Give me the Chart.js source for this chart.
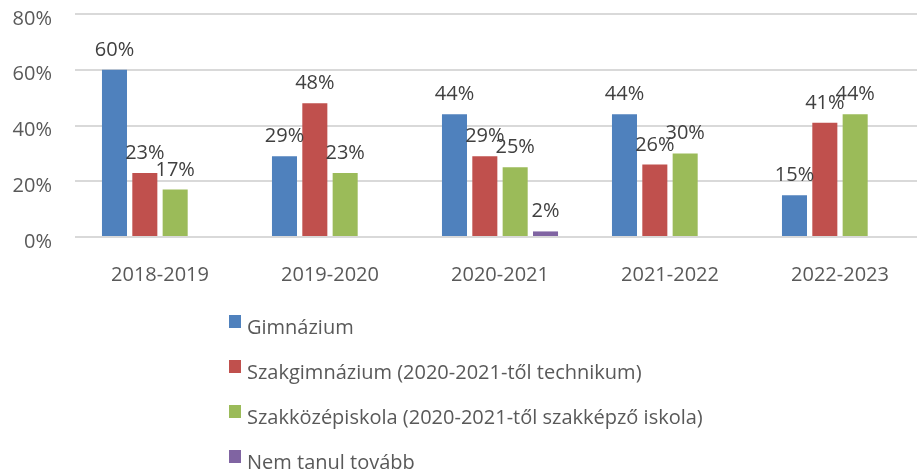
<!DOCTYPE html>
<html>
<head>
<meta charset="utf-8">
<script src="https://cdn.jsdelivr.net/npm/chart.js@4/dist/chart.umd.min.js"></script>
<style>
html,body{margin:0;padding:0;background:#fff;overflow:hidden;}
#wrap{position:relative;width:925px;height:474px;}
</style>
</head>
<body>
<div id="wrap"><canvas id="c" width="925" height="474"></canvas></div>
<script>
const categories = ["2018-2019","2019-2020","2020-2021","2021-2022","2022-2023"];
const gimnazium = [60,29,44,44,15];
const szakgimnazium = [23,48,29,26,41];
const szakkozep = [17,23,25,30,44];
const nemTanul = [null,null,2,null,null];
const seriesNames = ["Gimnázium","Szakgimnázium (2020-2021-től technikum)","Szakközépiskola (2020-2021-től szakképző iskola)","Nem tanul tovább"];
const yTicks = [0,20,40,60,80];

const FONT = "'Open Sans', sans-serif";
const colors = ["#4f81bd","#c0504d","#9bbb59","#8064a2"];

const labelPlugin = {
  id:'barLabels',
  afterDatasetsDraw(chart){
    const ctx = chart.ctx;
    ctx.save();
    ctx.font = "20px " + FONT;
    ctx.fillStyle = "#404040";
    ctx.textAlign = "center";
    ctx.textBaseline = "alphabetic";
    chart.data.datasets.forEach((ds,i)=>{
      const meta = chart.getDatasetMeta(i);
      meta.data.forEach((bar,j)=>{
        const v = ds.data[j];
        if(v===null || v===undefined) return;
        ctx.fillText(v + "%", bar.x, bar.y - 14);
      });
    });
    ctx.restore();
  }
};

const legendPlugin = {
  id:'vertLegend',
  afterDraw(chart){
    const ctx = chart.ctx;
    ctx.save();
    ctx.font = "20px " + FONT;
    ctx.textAlign = "left";
    ctx.textBaseline = "alphabetic";
    chart.data.datasets.forEach((ds,i)=>{
      const base = 334 + i*45;
      ctx.fillStyle = ds.backgroundColor;
      ctx.fillRect(229, base - 19, 12, 13);
      ctx.fillStyle = "#595959";
      ctx.fillText(ds.label, 247, base);
    });
    ctx.restore();
  }
};

const data = {
  labels: categories,
  datasets: [
    {label: seriesNames[0], data: gimnazium, backgroundColor: colors[0]},
    {label: seriesNames[1], data: szakgimnazium, backgroundColor: colors[1]},
    {label: seriesNames[2], data: szakkozep, backgroundColor: colors[2]},
    {label: seriesNames[3], data: nemTanul, backgroundColor: colors[3]}
  ]
};

new Chart(document.getElementById('c'), {
  type:'bar',
  data,
  plugins:[labelPlugin, legendPlugin],
  options:{
    responsive:false,
    animation:false,
    devicePixelRatio:1,
    layout:{padding:{top:14,left:0,right:0,bottom:187}},
    datasets:{bar:{categoryPercentage:0.714,barPercentage:0.825}},
    plugins:{legend:{display:false},tooltip:{enabled:false}},
    scales:{
      x:{
        grid:{display:false,drawTicks:false},
        border:{display:false},
        ticks:{color:"#595959",font:{family:FONT,size:20},padding:26,maxRotation:0},
        afterFit(s){s.height=50;s.paddingLeft=0;s.paddingRight=0;}
      },
      y:{
        min:0,max:80,
        afterBuildTicks(s){s.ticks = yTicks.map(v=>({value:v}));},
        grid:{color:"#d9d9d9",lineWidth:2,drawTicks:false},
        border:{display:false},
        ticks:{color:"#595959",font:{family:FONT,size:20},padding:23,labelOffset:5,callback:v=>v+"%"},
        afterFit(s){s.width=75;s.paddingTop=0;s.paddingBottom=0;}
      }
    }
  }
});
</script>
</body>
</html>
